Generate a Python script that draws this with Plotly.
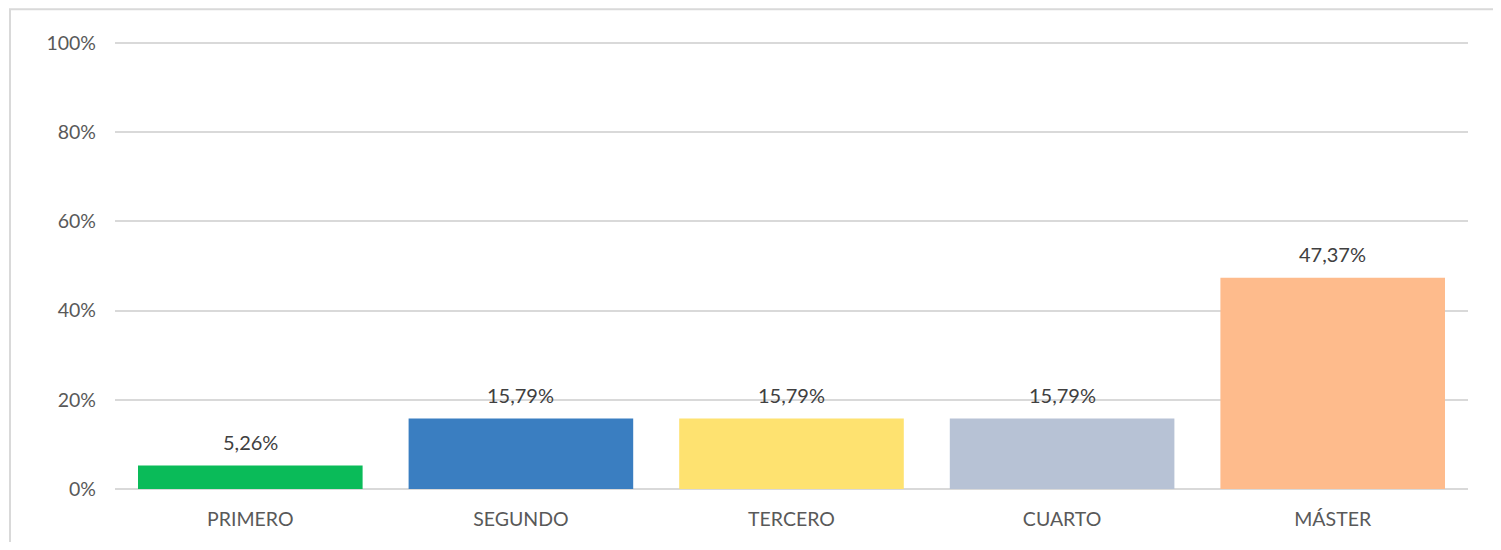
import plotly.graph_objects as go

categories = ["PRIMERO", "SEGUNDO", "TERCERO", "CUARTO", "MÁSTER"]
values = [5.26, 15.79, 15.79, 15.79, 47.37]
labels = ["5,26%", "15,79%", "15,79%", "15,79%", "47,37%"]
colors = ["#0ABB59", "#3A7EC1", "#FEE270", "#B7C2D5", "#FEBB8C"]
tick_vals = [0, 20, 40, 60, 80, 100]
tick_text = ["0%", "20%", "40%", "60%", "80%", "100%"]

# page body has an 8px margin; figure sized to fit the window
W, H = 1485, 534
ml, mr, mt, mb = 107, 25, 34, 49
pw, ph = W - ml - mr, H - mt - mb

font_family = "Lato, 'Open Sans', sans-serif"

fig = go.Figure()
fig.add_trace(go.Bar(x=categories, y=values, marker=dict(color=colors, line=dict(width=0)),
                     hoverinfo="skip"))

for c, v, t in zip(categories, values, labels):
    fig.add_annotation(x=c, y=v, text=t, showarrow=False, yanchor="bottom",
                       yshift=10, font=dict(size=20, color="#404040", family=font_family))

# chart border (top and left visible)
fig.add_shape(type="rect", xref="paper", yref="paper",
              x0=(2 - ml) / pw, x1=(W + 20 - ml) / pw,
              y0=-(H + 20 - mt - ph) / ph, y1=(ph + mt - 1) / ph,
              line=dict(color="#D9D9D9", width=2), layer="below")

fig.update_layout(
    width=W, height=H,
    margin=dict(l=ml, r=mr, t=mt, b=mb),
    plot_bgcolor="white", paper_bgcolor="white",
    bargap=0.17,
    showlegend=False,
    font=dict(family=font_family, size=19.5, color="#595959"),
    xaxis=dict(showgrid=False, showline=False, ticks="", ticklabelstandoff=16,
               tickfont=dict(size=19.5, color="#595959")),
    yaxis=dict(range=[0, 100.25], tickvals=tick_vals, ticktext=tick_text,
               showgrid=True, gridcolor="#D9D9D9", gridwidth=2,
               zeroline=True, zerolinecolor="#D9D9D9", zerolinewidth=2,
               showline=False, ticks="", ticklabelstandoff=18,
               tickfont=dict(size=19.5, color="#595959")),
)

fig.write_html("out.html")
